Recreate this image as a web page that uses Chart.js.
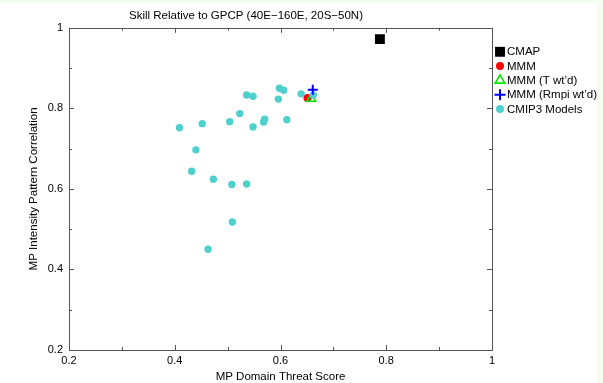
<!DOCTYPE html>
<html>
<head>
<meta charset="utf-8">
<script src="https://cdn.jsdelivr.net/npm/chart.js@4.4.1/dist/chart.umd.min.js"></script>
<style>
html, body { margin: 0; padding: 0; background: #fff; }
#wrap { position: relative; width: 603px; height: 383px; }
#wrap:after { content: ''; position: absolute; left: 0; top: 0; right: 0; bottom: 0;
  border-top: 3px solid #f4fdf0; border-right: 6px solid #f4fdf0; pointer-events: none; }
</style>
</head>
<body>
<div id="wrap"><canvas id="chart-skill" width="603" height="383"></canvas></div>
<script>
// values
var cmapX = [0.788], cmapY = [0.972];
var mmmX = [0.651], mmmY = [0.826];
var mmmTX = [0.658], mmmTY = [0.824];
var mmmRX = [0.661], mmmRY = [0.846];
var cmipX = [0.409, 0.452, 0.504, 0.523, 0.536, 0.548, 0.548, 0.568, 0.570, 0.596, 0.598,
             0.606, 0.612, 0.639, 0.662, 0.440, 0.432, 0.473, 0.508, 0.536, 0.509, 0.463];
var cmipY = [0.752, 0.762, 0.767, 0.787, 0.833, 0.830, 0.754, 0.766, 0.773, 0.823, 0.850,
             0.845, 0.772, 0.836, 0.833, 0.697, 0.644, 0.624, 0.611, 0.612, 0.518, 0.450];
var axisMin = 0.2, axisMax = 1, axisStep = 0.1;

var font = "'Liberation Sans', Arial, Helvetica, sans-serif";
Chart.defaults.font.family = font;
Chart.defaults.color = '#000';

function pts(xs, ys) {
	return xs.map(function(x, i) { return {x: x, y: ys[i]}; });
}
function tickLabel(v) {
	var k = Math.round(v * 10);
	return k % 2 === 0 ? String(k / 10) : '';
}

// inward ticks on all four sides + box
var frameTicks = {
	id: 'frameTicks',
	beforeDatasetsDraw: function(chart) {
		var a = chart.chartArea, ctx = chart.ctx, xs = chart.scales.x, ys = chart.scales.y;
		ctx.save();
		ctx.strokeStyle = '#555';
		ctx.lineWidth = 1;
		ctx.strokeRect(Math.round(a.left) + 0.5, Math.round(a.top) + 0.5,
			Math.round(a.right - a.left), Math.round(a.bottom - a.top));
		ctx.beginPath();
		xs.ticks.forEach(function(t) {
			var px = Math.round(xs.getPixelForValue(t.value)) + 0.5;
			var len = Math.round(t.value * 10) % 2 === 0 ? 5 : 3;
			ctx.moveTo(px, a.bottom); ctx.lineTo(px, a.bottom - len);
			ctx.moveTo(px, a.top); ctx.lineTo(px, a.top + len);
		});
		ys.ticks.forEach(function(t) {
			var py = Math.round(ys.getPixelForValue(t.value)) + 0.5;
			var len = Math.round(t.value * 10) % 2 === 0 ? 5 : 3;
			ctx.moveTo(a.left, py); ctx.lineTo(a.left + len, py);
			ctx.moveTo(a.right, py); ctx.lineTo(a.right - len, py);
		});
		ctx.stroke();
		ctx.restore();
	}
};

var sideLegend = {
	id: 'sideLegend',
	afterDraw: function(chart) {
		var ctx = chart.ctx, x0 = chart.chartArea.right + 8, y0 = chart.chartArea.top + 24, step = 14.3;
		ctx.save();
		ctx.font = '11.5px ' + font;
		ctx.textBaseline = 'middle';
		chart.data.datasets.forEach(function(ds, i) {
			var y = y0 + i * step;
			ctx.fillStyle = ds.backgroundColor || 'transparent';
			ctx.strokeStyle = ds.borderColor;
			ctx.lineWidth = ds.borderWidth;
			Chart.helpers.drawPoint(ctx, {pointStyle: ds.pointStyle, radius: ds.legendRadius,
				borderWidth: ds.borderWidth, rotation: 0}, x0, y);
			ctx.fillStyle = '#000';
			ctx.fillText(ds.label, x0 + 7, y + 0.5);
		});
		ctx.restore();
	}
};

var skill = document.getElementById('chart-skill');
if (skill) {
	new Chart(skill, {
		type: 'scatter',
		data: {
			datasets: [
				{label: 'CMAP', data: pts(cmapX, cmapY), pointStyle: 'rect', pointRadius: 7, legendRadius: 7,
				 backgroundColor: '#000', borderColor: '#000', borderWidth: 0, order: 0},
				{label: 'MMM', data: pts(mmmX, mmmY), pointStyle: 'circle', pointRadius: 4, legendRadius: 4,
				 backgroundColor: '#ff0000', borderColor: '#ff0000', borderWidth: 0, order: 4},
				{label: 'MMM (T wt\u2019d)', data: pts(mmmTX, mmmTY), pointStyle: 'triangle', pointRadius: 5, legendRadius: 5.5,
				 backgroundColor: 'transparent', borderColor: '#00e600', borderWidth: 1.6, order: 3},
				{label: 'MMM (Rmpi wt\u2019d)', data: pts(mmmRX, mmmRY), pointStyle: 'cross', pointRadius: 5, legendRadius: 5.5,
				 backgroundColor: '#0000ff', borderColor: '#0000ff', borderWidth: 2, order: 1},
				{label: 'CMIP3 Models', data: pts(cmipX, cmipY), pointStyle: 'circle', pointRadius: 3.7, legendRadius: 4,
				 backgroundColor: '#4ed0cc', borderColor: '#4ed0cc', borderWidth: 0, order: 2}
			]
		},
		options: {
			responsive: false,
			animation: false,
			events: [],
			layout: {padding: {left: 0, right: 111, top: 0, bottom: 0}},
			plugins: {
				legend: {display: false},
				tooltip: {enabled: false},
				title: {
					display: true,
					text: 'Skill Relative to GPCP (40E\u2212160E, 20S\u221250N)',
					font: {size: 11.5, weight: 'normal'},
					color: '#000',
					padding: {top: 8.5, bottom: 5.5}
				}
			},
			scales: {
				x: {
					type: 'linear', min: axisMin, max: axisMax,
					grid: {display: false, drawTicks: false},
					border: {display: false},
					ticks: {stepSize: axisStep, autoSkip: false, maxRotation: 0, padding: 4,
						font: {size: 11}, color: '#000', callback: tickLabel},
					title: {display: true, text: 'MP Domain Threat Score', font: {size: 11.5},
						color: '#000', padding: {top: 0, bottom: -1}},
					afterFit: function(s) { s.height = 33; }
				},
				y: {
					type: 'linear', min: axisMin, max: axisMax,
					grid: {display: false, drawTicks: false},
					border: {display: false},
					ticks: {stepSize: axisStep, autoSkip: false, padding: 6,
						font: {size: 11}, color: '#000', callback: tickLabel},
					title: {display: true, text: 'MP Intensity Pattern Correlation', font: {size: 11.5},
						color: '#000', padding: {top: 27, bottom: 0}},
					afterFit: function(s) { s.width = 69; }
				}
			}
		},
		plugins: [frameTicks, sideLegend]
	});
}
</script>
</body>
</html>
